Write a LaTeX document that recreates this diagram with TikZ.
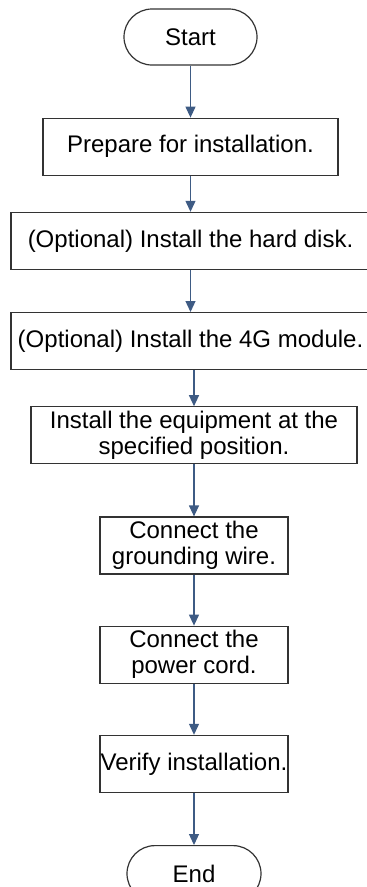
\documentclass[tikz,border=0pt]{standalone}
\usepackage{fontspec}
\setmainfont{Liberation Sans}
\usetikzlibrary{arrows.meta,positioning}
\definecolor{arrblue}{HTML}{3E5B84}

\begin{document}
\begin{tikzpicture}[
    x=1pt, y=1pt,
    node distance=52pt,
    term/.style={draw=black!80, line width=1.2pt, rounded corners=28pt, minimum width=133pt, minimum height=56pt, inner sep=0pt, font=\fontsize{24}{26}\selectfont},
    box/.style={draw=black!80, line width=1.2pt, align=center, minimum height=57pt, inner sep=0pt, font=\fontsize{24}{26}\selectfont},
    arr/.style={-{Triangle[length=11pt,width=10pt]}, line width=1.2pt, color=arrblue}
  ]
  \useasboundingbox (0,0) rectangle (367,-887);
  \node[term] (start) at (190.5,-37) {Start};
  \node[box, minimum width=295pt, below=52pt of start] (prep) {Prepare for installation.};
  \node[box, minimum width=359pt, below=36pt of prep] (disk) {(Optional) Install the hard disk.};
  \node[box, minimum width=359pt, below=42pt of disk] (lte) {(Optional) Install the 4G module.};
  \node[box, minimum width=326pt, below=36pt of lte, xshift=3.5pt] (mount) {Install the equipment at the\\specified position.};
  \node[box, minimum width=188pt, below=52pt of mount] (ground) {Connect the\\grounding wire.};
  \node[box, minimum width=188pt, below=51pt of ground] (power) {Connect the\\power cord.};
  \node[box, minimum width=188pt, below=51pt of power] (verify) {Verify installation.};
  \node[term, minimum width=134pt, below=52pt of verify] (end) {End};
  \draw[arr] (start) -- (prep);
  \draw[arr] (prep) -- (disk);
  \draw[arr] (disk) -- (lte);
  \draw[arr] (lte.south -| mount.north) -- (mount);
  \draw[arr] (mount) -- (ground);
  \draw[arr] (ground) -- (power);
  \draw[arr] (power) -- (verify);
  \draw[arr] (verify) -- (end);
\end{tikzpicture}
\end{document}
